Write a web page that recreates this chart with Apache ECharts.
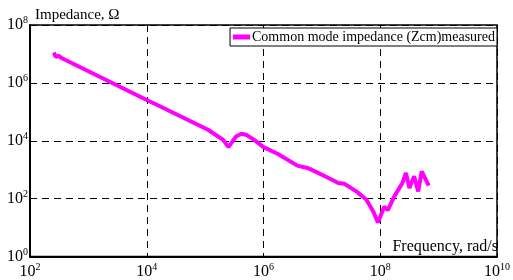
<!DOCTYPE html>
<html>
<head>
<meta charset="utf-8">
<script src="https://cdn.jsdelivr.net/npm/echarts@6/dist/echarts.min.js"></script>
<style>html,body{margin:0;padding:0;background:#fff}#c{width:513px;height:280px}</style>
</head>
<body>
<div id="c"></div>
<script>
var frequency = [257, 275, 309, 347, 1.0e4, 1.58e4, 1.12e5, 2.04e5, 2.51e5, 3.39e5, 4.17e5, 5.01e5, 6.92e5, 1.0e6, 1.74e6, 3.80e6, 5.62e6, 6.31e6, 1.20e7, 1.91e7, 2.45e7, 3.89e7, 5.75e7, 7.59e7, 9.12e7, 1.17e8, 1.35e8, 1.74e8, 2.40e8, 2.75e8, 3.16e8, 3.80e8, 4.47e8, 5.13e8, 6.03e8, 6.76e8];
var impedance = [1.12e7, 7.94e6, 8.51e6, 7.24e6, 2.57e5, 1.66e5, 2.40e4, 1.07e4, 6.03e3, 1.41e4, 1.74e4, 1.62e4, 1.07e4, 6.03e3, 3.55e3, 1.38e3, 1.15e3, 1.05e3, 562, 347, 324, 178, 93, 36, 15, 52, 40, 120, 347, 776, 234, 589, 178, 871, 457, 282];
var seriesName = 'Common mode impedance (Zcm)measured';
var xTickExponents = [2, 4, 6, 8, 10];
var yTickExponents = [0, 2, 4, 6, 8];
var xName = 'Frequency, rad/s';
var yName = 'Impedance, \u03a9';

var points = frequency.map(function (f, i) { return [f, impedance[i]]; });
var FONT = '"Liberation Serif", "Times New Roman", serif';
function powLabel(v) {
  var e = Math.round(Math.log10(v));
  return '{a|10}{b|' + e + '}';
}
var rich = {
  a: { fontFamily: FONT, fontSize: 16, color: '#000' },
  b: { fontFamily: FONT, fontSize: 10, color: '#000', padding: [0, 0, 9, 0] }
};
var split = { show: true, lineStyle: { color: '#000', type: [7, 5], width: 1 } };

var chart = echarts.init(document.getElementById('c'), null, { renderer: 'canvas' });
chart.setOption({
  animation: false,
  backgroundColor: '#fff',
  grid: { left: 30, top: 25, right: 11, bottom: 23, show: true, borderColor: '#000', borderWidth: 1.5, backgroundColor: 'transparent' },
  legend: {
    data: [{ name: seriesName, icon: 'rect' }],
    right: 16, top: 28,
    orient: 'horizontal',
    itemWidth: 17, itemHeight: 5,
    borderColor: '#000', borderWidth: 1, backgroundColor: '#fff',
    padding: [2, 2, 2, 3],
    textStyle: { fontFamily: FONT, fontSize: 14, color: '#000', padding: [0, 0, 0, -3] }
  },
  xAxis: {
    type: 'log', logBase: 10, min: 1e2, max: 1e10, interval: 2,
    axisLine: { show: true, onZero: false, lineStyle: { color: '#000', width: 2 } },
    axisTick: { show: false },
    axisLabel: { formatter: powLabel, rich: rich, margin: 6, showMinLabel: true, showMaxLabel: true },
    splitLine: split
  },
  yAxis: {
    type: 'log', logBase: 10, min: 1e0, max: 1e8, interval: 2,
    axisLine: { show: true, onZero: false, lineStyle: { color: '#000', width: 2 } },
    axisTick: { show: false },
    axisLabel: { formatter: powLabel, rich: rich, margin: 2, showMinLabel: true, showMaxLabel: true },
    splitLine: split
  },
  graphic: [
    { type: 'text', left: 35, top: 8, style: { text: yName, font: '15px ' + FONT, fill: '#000' } },
    { type: 'text', right: 15, top: 239, style: { text: xName, font: '16px ' + FONT, fill: '#000' } }
  ],
  series: [{
    name: seriesName,
    type: 'line',
    data: points,
    showSymbol: false,
    symbol: 'none',
    lineStyle: { color: '#ff00ff', width: 4 },
    itemStyle: { color: '#ff00ff' }
  }]
});
</script>
</body>
</html>
